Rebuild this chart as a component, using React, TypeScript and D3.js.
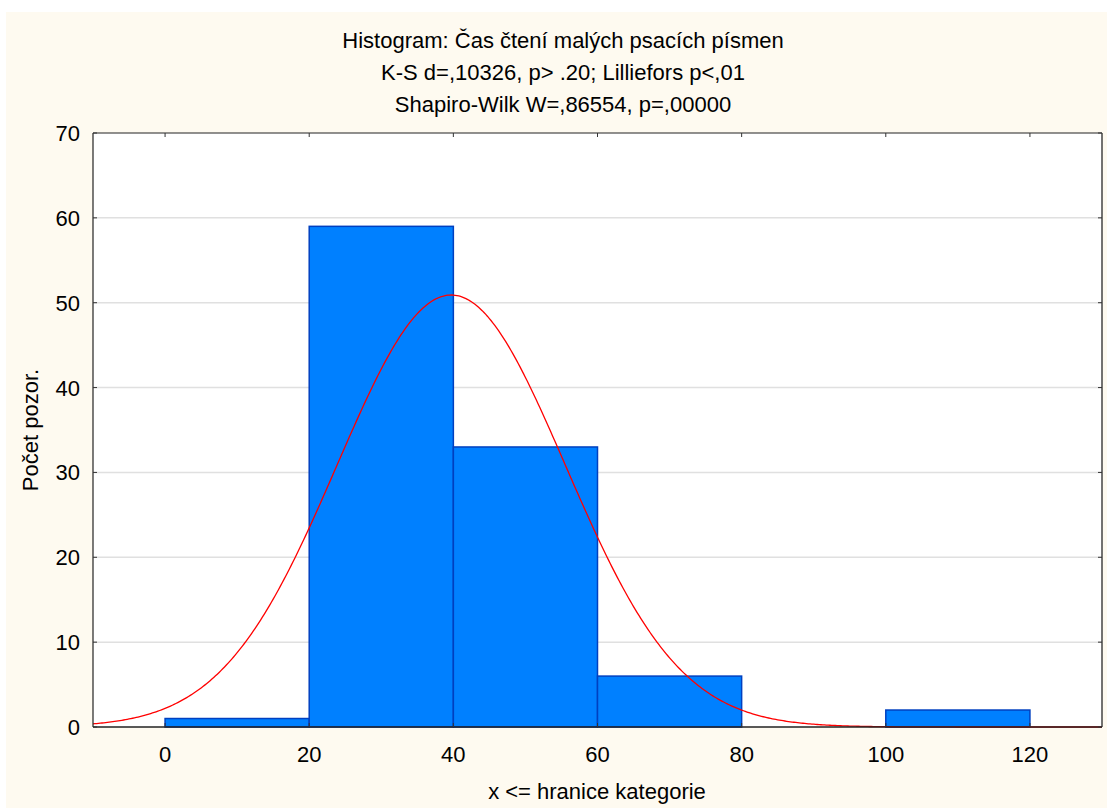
import React from "react";
import * as d3 from "d3";

const titleLines = [
  "Histogram: Čas čtení malých psacích písmen",
  "K-S d=,10326, p> .20; Lilliefors p<,01",
  "Shapiro-Wilk W=,86554, p=,00000",
];
const binEdges = [0, 20, 40, 60, 80, 100, 120];
const counts = [1, 59, 33, 6, 0, 2];
const xTicks = [0, 20, 40, 60, 80, 100, 120];
const yTicks = [0, 10, 20, 30, 40, 50, 60, 70];
const normalMean = 39.7;
const normalSd = 15.83;
const totalN = 101;
const xLabel = "x <= hranice kategorie";
const yLabel = "Počet pozor.";

export default function App() {
  const W = 1107, H = 808;
  const L = 93, R = 1102, T = 133, B = 727;
  const x = d3.scaleLinear().domain([-10, 130]).range([L, R]);
  const y = d3.scaleLinear().domain([0, 70]).range([B, T]);
  const font = "'Liberation Sans', Arial, sans-serif";
  const fs = 22;
  const binW = binEdges[1] - binEdges[0];
  const pdf = (v: number) =>
    (totalN * binW) / (normalSd * Math.sqrt(2 * Math.PI)) *
    Math.exp(-0.5 * ((v - normalMean) / normalSd) ** 2);
  const curvePts = d3.range(-10, 130.01, 0.25).map((v) => [v, pdf(v)] as [number, number]);
  const line = d3.line<[number, number]>().x((d) => x(d[0])).y((d) => y(d[1]));
  return (
    <svg width={W} height={H} style={{ position: "absolute", left: 0, top: 0 }}>
      <rect x={0} y={0} width={W} height={H} fill="#ffffff" />
      <rect x={6} y={12} width={W - 6} height={H - 12} fill="#fefaf0" />
      <rect x={L} y={T} width={R - L} height={B - T} fill="#ffffff" />
      {yTicks.slice(1, -1).map((t) => (
        <line key={t} x1={L} x2={R} y1={y(t)} y2={y(t)} stroke="#e0e0e0" strokeWidth={1.5} />
      ))}
      {counts.map((c, i) =>
        c > 0 ? (
          <rect
            key={i}
            x={x(binEdges[i])}
            y={y(c)}
            width={x(binEdges[i + 1]) - x(binEdges[i])}
            height={y(0) - y(c)}
            fill="#0080ff"
            stroke="#0040c0"
            strokeWidth={1.5}
          />
        ) : null
      )}
      <path d={line(curvePts) || ""} fill="none" stroke="#ff0000" strokeWidth={1.3} />
      <line x1={L} x2={R} y1={T} y2={T} stroke="#222" strokeWidth={1.2} />
      <line x1={R} x2={R} y1={T} y2={B} stroke="#444" strokeWidth={1.5} />
      <line x1={L} x2={L} y1={T} y2={B} stroke="#222" strokeWidth={1.2} />
      <line x1={L} x2={R} y1={B} y2={B} stroke="#222" strokeWidth={1.5} />
      {xTicks.map((t) => (
        <g key={t}>
          <line x1={x(t)} x2={x(t)} y1={T} y2={T + 4} stroke="#333" />
          <line x1={x(t)} x2={x(t)} y1={B} y2={B - 4} stroke="#333" />
          <text x={x(t)} y={762} textAnchor="middle" fontFamily={font} fontSize={fs} fill="#000">
            {t}
          </text>
        </g>
      ))}
      {yTicks.map((t) => (
        <g key={t}>
          <line x1={L} x2={L + 4} y1={y(t)} y2={y(t)} stroke="#333" />
          <line x1={R} x2={R - 4} y1={y(t)} y2={y(t)} stroke="#333" />
          <text x={80} y={y(t) + 8} textAnchor="end" fontFamily={font} fontSize={fs} fill="#000">
            {t}
          </text>
        </g>
      ))}
      {titleLines.map((s, i) => (
        <text key={i} x={563} y={48 + i * 32} textAnchor="middle" fontFamily={font} fontSize={fs} fill="#000">
          {s}
        </text>
      ))}
      <text x={597} y={799} textAnchor="middle" fontFamily={font} fontSize={fs} fill="#000">
        {xLabel}
      </text>
      <text
        transform={`translate(38, ${y(35)}) rotate(-90)`}
        textAnchor="middle"
        fontFamily={font}
        fontSize={fs}
        fill="#000"
      >
        {yLabel}
      </text>
    </svg>
  );
}
